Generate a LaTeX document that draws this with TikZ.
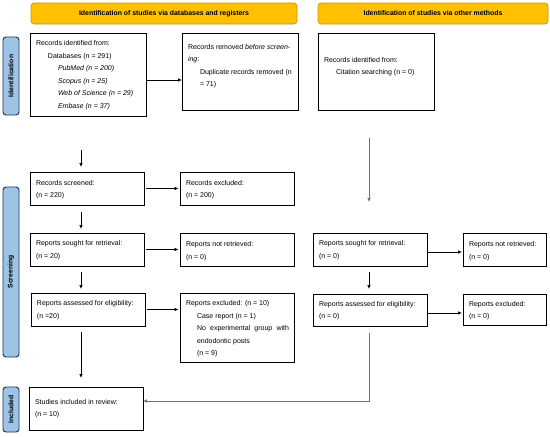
\documentclass[tikz,border=0pt]{standalone}
\usepackage{fontspec}
\setmainfont{Liberation Sans}
\usetikzlibrary{arrows.meta,calc}
\definecolor{bannerfill}{HTML}{FFC000}
\definecolor{bannerborder}{HTML}{C79500}
\definecolor{sidefill}{HTML}{9DC3E6}
\definecolor{sideborder}{HTML}{22324F}
\definecolor{lineg}{HTML}{707070}
% #1 width, #2 height, #3 line spacing, #4 first baseline, #5 content
\newcommand{\bxt}[5]{\begin{minipage}[t][#2][t]{#1}\fontsize{7}{#3}\selectfont\raggedright\parindent0pt\rule{0pt}{#4}#5\end{minipage}}
\newcommand{\ind}[1]{\hspace*{#1}}
\tikzset{
  box/.style={draw=black, line width=0.9pt, fill=white, inner xsep=6pt, inner ysep=0pt, outer sep=0pt, anchor=north west},
  banner/.style={draw=bannerborder, fill=bannerfill, rounded corners=3pt, line width=0.6pt, font=\fontsize{6.9}{8}\selectfont\bfseries, minimum height=21pt, inner sep=0pt, outer sep=0pt},
  side/.style={draw=sideborder, fill=sidefill, rounded corners=3pt, line width=0.9pt, rotate=90, font=\fontsize{6.8}{8}\selectfont\bfseries, minimum height=16pt, inner sep=0pt, outer sep=0pt},
  arr/.style={-{Latex[length=4pt,width=3.5pt]}, line width=0.7pt, draw=black},
  garr/.style={-{Latex[length=4pt,width=3.5pt]}, line width=0.7pt, draw=lineg},
}
\begin{document}
\begin{tikzpicture}[x=1pt,y=-1pt]
\useasboundingbox (0,0) rectangle (550,437);
% banners
\node[banner, minimum width=266pt] (ban1) at (164,13.5) {Identification of studies via databases and registers};
\node[banner, minimum width=230pt] (ban2) at (433,13.5) {Identification of studies via other methods};
% side labels
\node[side, minimum width=78pt] (sid1) at (11,76) {Identification};
\node[side, minimum width=170pt] (sid2) at (11,272) {Screening};
\node[side, minimum width=45pt] (sid3) at (11,409.5) {Included};
% boxes
\node[box] (B1) at (30,33) {\bxt{104pt}{83pt}{12.6pt}{12.5pt}{Records identified from:\\
\ind{12pt}Databases (n = 291)\\
\ind{22pt}\textit{PubMed (n = 200)}\\
\ind{22pt}\textit{Scopus (n = 25)}\\
\ind{22pt}\textit{Web of Science (n = 29)}\\
\ind{22pt}\textit{Embase (n = 37)}}};
\node[box] (B2) at (182,33) {\bxt{104pt}{77pt}{12.4pt}{16.5pt}{Records removed \textit{before screen-}\\
\textit{ing}:\\
\ind{12pt}Duplicate records removed (n\\
\ind{12pt}= 71)}};
\node[box] (B3) at (318,33) {\bxt{104pt}{77pt}{12.4pt}{29.5pt}{Records identified from:\\
\ind{12pt}Citation searching (n = 0)}};
\node[box] (B4) at (30,172) {\bxt{102pt}{33pt}{12.4pt}{13.5pt}{Records screened:\\(n = 220)}};
\node[box] (B5) at (180,172) {\bxt{102pt}{33pt}{12.4pt}{13.5pt}{Records excluded:\\(n = 200)}};
\node[box] (B6) at (30,233) {\bxt{102pt}{33pt}{12.6pt}{12.5pt}{Reports sought for retrieval:\\(n = 20)}};
\node[box] (B7) at (180,233) {\bxt{102pt}{33pt}{12.6pt}{13.5pt}{Reports not retrieved:\\(n = 0)}};
\node[box] (B8) at (31,293) {\bxt{102pt}{33pt}{12.6pt}{12.5pt}{Reports assessed for eligibility:\\(n =20)}};
\node[box] (B9) at (180,293) {\bxt{102pt}{69pt}{12.5pt}{12.5pt}{Reports excluded: (n = 10)\\
\ind{11pt}Case report (n = 1)\\
\ind{11pt}\makebox[92pt][s]{No experimental group with}\\
\ind{11pt}endodontic posts\\
\ind{11pt}(n = 9)}};
\node[box] (B10) at (29,387) {\bxt{102pt}{43pt}{12.4pt}{17.5pt}{Studies included in review:\\(n = 10)}};
\node[box] (R1) at (313,233) {\bxt{102pt}{33pt}{12.6pt}{12.5pt}{Reports sought for retrieval:\\(n = 0)}};
\node[box] (R2) at (463,233) {\bxt{71pt}{33pt}{12.6pt}{13.5pt}{Reports not retrieved:\\(n = 0)}};
\node[box] (R3) at (313,294) {\bxt{102pt}{32pt}{12.4pt}{12.5pt}{Reports assessed for eligibility:\\(n = 0)}};
\node[box] (R4) at (463,294) {\bxt{71pt}{31pt}{12.4pt}{12.5pt}{Reports excluded:\\(n = 0)}};
% column coordinates
\coordinate (lc) at (81,0);
\coordinate (rc) at (369,0);
\coordinate (gl) at (369,401);
% vertical arrows
\draw[arr] ([yshift=-34pt]B1.south -| lc) -- ([yshift=5pt]B4.north -| lc);
\draw[arr] ([yshift=-7pt]B4.south -| lc) -- ([yshift=4pt]B6.north -| lc);
\draw[arr] ([yshift=-6pt]B6.south -| lc) -- ([yshift=4pt]B8.north -| lc);
\draw[arr] ([yshift=-6pt]B8.south -| lc) -- ([yshift=9pt]B10.north -| lc);
\draw[garr] ([yshift=-28pt]B3.south -| rc) -- ([yshift=31pt]R1.north -| rc);
\draw[arr] ([yshift=-6pt]R1.south -| rc) -- ([yshift=5pt]R3.north -| rc);
\draw[garr] ([yshift=-7pt]R3.south -| gl) -- (gl) -- (gl -| B10.east);
% horizontal arrows
\draw[arr] ([yshift=-5.5pt]B1.east) -- ([yshift=-5.5pt]B1.east -| B2.west);
\draw[arr, shorten <=2pt, shorten >=1.5pt] (B4.east) -- (B4.east -| B5.west);
\draw[arr, shorten <=2pt, shorten >=1.5pt] (B6.east) -- (B6.east -| B7.west);
\draw[arr, shorten <=2pt, shorten >=1.5pt] (B8.east) -- (B8.east -| B9.west);
\draw[arr, shorten >=1pt] ([yshift=-2.5pt]R1.east) -- ([yshift=-2.5pt]R1.east -| R2.west);
\draw[arr, shorten >=1pt] ([yshift=-3pt]R3.east) -- ([yshift=-3pt]R3.east -| R4.west);
\end{tikzpicture}
\end{document}
